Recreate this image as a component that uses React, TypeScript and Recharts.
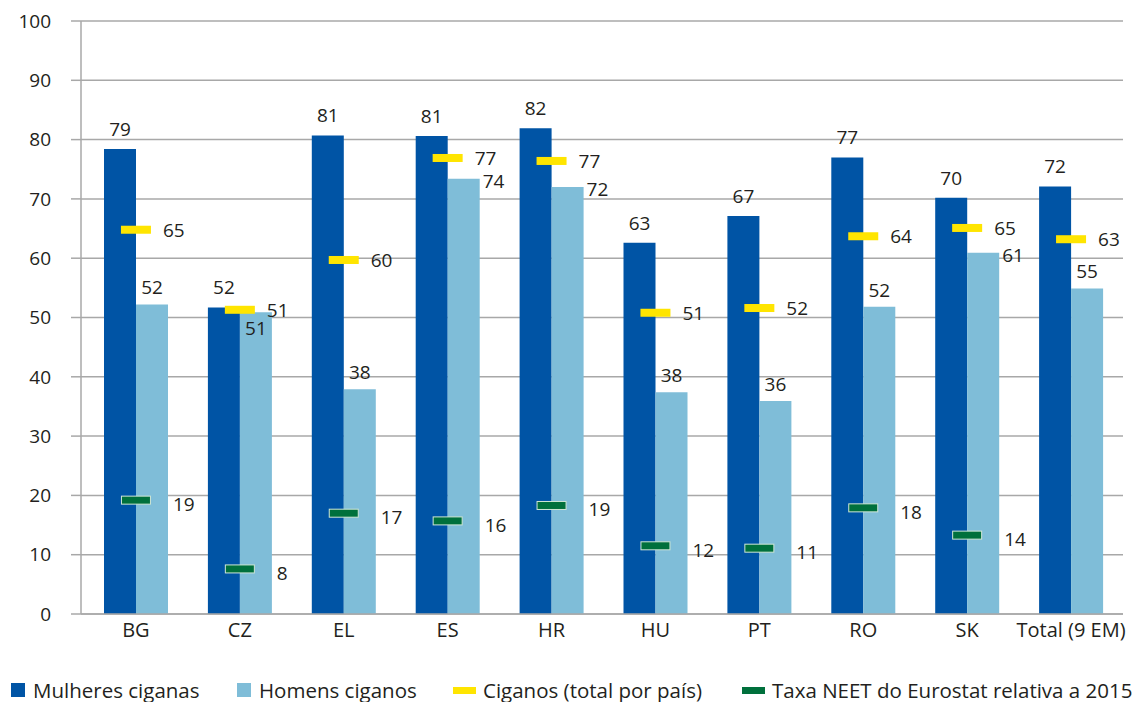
import React from 'react'
import {
  ComposedChart,
  Bar,
  Line,
  XAxis,
  YAxis,
  CartesianGrid,
  LabelList,
  Legend,
} from 'recharts'

// values, labels as printed
const categories = ['BG', 'CZ', 'EL', 'ES', 'HR', 'HU', 'PT', 'RO', 'SK', 'Total (9 EM)']
const mulheres = [78.4, 51.7, 80.7, 80.6, 81.9, 62.6, 67.1, 77.0, 70.2, 72.1]
const homens = [52.2, 50.9, 37.9, 73.4, 72.0, 37.4, 35.9, 51.8, 60.9, 54.9]
const ciganos = [64.8, 51.3, 59.7, 76.9, 76.4, 50.8, 51.6, 63.7, 65.1, 63.2]
const neet: (number | null)[] = [19.2, 7.6, 17.0, 15.7, 18.3, 11.5, 11.1, 17.9, 13.3, null]

const mulheresLabels = [79, 52, 81, 81, 82, 63, 67, 77, 70, 72]
const homensLabels = [52, 51, 38, 74, 72, 38, 36, 52, 61, 55]
const ciganosLabels = [65, 51, 60, 77, 77, 51, 52, 64, 65, 63]
const neetLabels: (number | null)[] = [19, 8, 17, 16, 19, 12, 11, 18, 14, null]

const yTicks = [0, 10, 20, 30, 40, 50, 60, 70, 80, 90, 100]

const DARK = '#0054a5'
const LIGHT = '#7fbdd8'
const YELLOW = '#ffe500'
const GREEN = '#00703c'
const GRID = '#a8a8a8'
const TEXT = '#231f20'
const FONT = '"Open Sans", sans-serif'

const data = categories.map((name, i) => ({
  name,
  mulheres: mulheres[i],
  homens: homens[i],
  ciganos: ciganos[i],
  neet: neet[i],
}))

const legendItems = [
  { label: 'Mulheres ciganas', color: DARK, kind: 'square' },
  { label: 'Homens ciganos', color: LIGHT, kind: 'square' },
  { label: 'Ciganos (total por país)', color: YELLOW, kind: 'dash' },
  { label: 'Taxa NEET do Eurostat relativa a 2015', color: GREEN, kind: 'dash' },
]
// legend wrapper already sits at the 10px chart margin
const legendLeft = [1, 227, 443, 732]

const labelStyle = { fontFamily: FONT, fontSize: 19, fill: TEXT }

function DarkLabel(props: any) {
  const { x, y, width, index } = props
  return (
    <text x={x + width / 2} y={y - 20} textAnchor="middle" dominantBaseline="central" {...labelStyle}>
      {mulheresLabels[index]}
    </text>
  )
}

function LightLabel(props: any) {
  const { x, y, width, index } = props
  const diff = ciganos[index] - homens[index]
  if (Math.abs(diff) < 1.5) {
    return (
      <text x={x + width / 2} y={y + 16} textAnchor="middle" dominantBaseline="central" {...labelStyle}>
        {homensLabels[index]}
      </text>
    )
  }
  if (diff > 0 && diff < 6) {
    return (
      <text x={x + width + 3} y={y + 2} textAnchor="start" dominantBaseline="central" {...labelStyle}>
        {homensLabels[index]}
      </text>
    )
  }
  return (
    <text x={x + width / 2} y={y - 17} textAnchor="middle" dominantBaseline="central" {...labelStyle}>
      {homensLabels[index]}
    </text>
  )
}

function YellowDot(props: any) {
  const { cx, cy } = props
  if (cx == null || cy == null || props.value == null) return null
  return <rect x={cx - 15} y={cy - 4} width={30} height={8} fill={YELLOW} />
}

function GreenDot(props: any) {
  const { cx, cy } = props
  if (cx == null || cy == null || props.value == null) return null
  return (
    <rect x={cx - 14.5} y={cy - 4} width={29} height={8} fill={GREEN} stroke="#cfe6d6" strokeWidth={1} />
  )
}

function YellowLabel(props: any) {
  const { x, y, index } = props
  if (x == null || y == null) return null
  return (
    <text x={x + 27} y={y} textAnchor="start" dominantBaseline="central" {...labelStyle}>
      {ciganosLabels[index]}
    </text>
  )
}

function GreenLabel(props: any) {
  const { x, y, index } = props
  if (x == null || y == null || neetLabels[index] == null) return null
  return (
    <text x={x + 37} y={y + 4} textAnchor="start" dominantBaseline="central" {...labelStyle}>
      {neetLabels[index]}
    </text>
  )
}

function LegendContent() {
  return (
    <div
      style={{
        position: 'relative',
        height: 40,
        fontFamily: FONT,
        fontSize: 20.5,
        color: TEXT,
        whiteSpace: 'nowrap',
      }}
    >
      {legendItems.map((item, i) => (
        <div
          key={item.label}
          style={{
            position: 'absolute',
            left: legendLeft[i],
            top: 22,
            height: 28,
            display: 'flex',
            alignItems: 'center',
          }}
        >
          {item.kind === 'square' ? (
            <span style={{ width: 14, height: 14, background: item.color, marginRight: 8, display: 'inline-block' }} />
          ) : (
            <span style={{ width: 23, height: 7, background: item.color, marginRight: 7, display: 'inline-block' }} />
          )}
          <span>{item.label}</span>
        </div>
      ))}
    </div>
  )
}

export default function App() {
  return (
    <div style={{ position: 'absolute', left: 0, top: 0, background: '#fff' }}>
      <ComposedChart
        width={1136}
        height={702}
        data={data}
        margin={{ top: 21, right: 13, bottom: 8, left: 10 }}
        barGap={0}
      >
        <CartesianGrid vertical={false} stroke={GRID} strokeWidth={1.5} />
        <XAxis
          dataKey="name"
          axisLine={{ stroke: GRID, strokeWidth: 1.5 }}
          tickLine={false}
          tickSize={0}
          tickMargin={9}
          height={40}
          padding={{ left: 3, right: 0 }}
          tick={{ fontFamily: FONT, fontSize: 20, fill: TEXT }}
          interval={0}
        />
        <YAxis
          domain={[0, 100]}
          ticks={yTicks}
          width={71}
          axisLine={{ stroke: GRID, strokeWidth: 1.5 }}
          tickLine={{ stroke: GRID, strokeWidth: 1.5 }}
          tickSize={10}
          tickMargin={20}
          tick={{ fontFamily: FONT, fontSize: 19, fill: TEXT }}
        />
        <Legend verticalAlign="bottom" content={<LegendContent />} wrapperStyle={{ height: 40 }} />
        <Bar dataKey="mulheres" fill={DARK} barSize={32} isAnimationActive={false}>
          <LabelList dataKey="mulheres" content={<DarkLabel />} />
        </Bar>
        <Bar dataKey="homens" fill={LIGHT} barSize={32} isAnimationActive={false}>
          <LabelList dataKey="homens" content={<LightLabel />} />
        </Bar>
        <Line
          dataKey="ciganos"
          stroke="none"
          dot={<YellowDot />}
          activeDot={false}
          isAnimationActive={false}
          legendType="none"
        >
          <LabelList dataKey="ciganos" content={<YellowLabel />} />
        </Line>
        <Line
          dataKey="neet"
          stroke="none"
          dot={<GreenDot />}
          activeDot={false}
          isAnimationActive={false}
          legendType="none"
        >
          <LabelList dataKey="neet" content={<GreenLabel />} />
        </Line>
      </ComposedChart>
    </div>
  )
}
